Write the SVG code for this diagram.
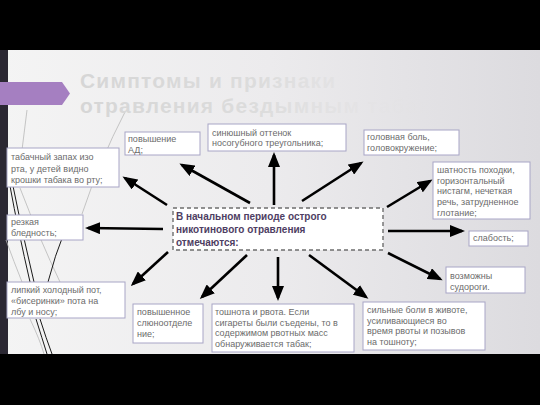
<svg xmlns="http://www.w3.org/2000/svg" width="540" height="405" viewBox="0 0 540 405">
<defs>
<linearGradient id="bg" x1="0" y1="0" x2="1" y2="0">
<stop offset="0" stop-color="#f4f4f4"/>
<stop offset="0.5" stop-color="#ecebed"/>
<stop offset="1" stop-color="#dcdbdf"/>
</linearGradient>
<linearGradient id="tg" gradientUnits="userSpaceOnUse" x1="80" y1="0" x2="480" y2="0">
<stop offset="0" stop-color="#d6d6d6"/>
<stop offset="0.45" stop-color="#dcdcdc"/>
<stop offset="0.75" stop-color="#e4e3e5" stop-opacity="0.6"/>
<stop offset="1" stop-color="#e0dfe2" stop-opacity="0"/>
</linearGradient>
<marker id="ah" markerUnits="userSpaceOnUse" markerWidth="15" markerHeight="12" refX="12" refY="6" orient="auto">
<path d="M0,0 L15,6 L0,12 z" fill="#000"/>
</marker>
<style>
.box{fill:#ffffff;stroke:#a8a5c6;stroke-width:1}
.t{font-family:"Liberation Sans",Arial,sans-serif;font-size:9px;fill:#6b6b6b}
.c{font-family:"Liberation Sans",Arial,sans-serif;font-size:10px;font-weight:bold;fill:#4e3e63}
.ar{stroke:#000;stroke-width:2.6;fill:none;marker-end:url(#ah)}
.deco{fill:none;stroke:#1a1a1a;stroke-width:1}
.decog{fill:none;stroke:#b8b8b8;stroke-width:0.8}
</style>
</defs>
<rect x="0" y="0" width="540" height="405" fill="#000"/>
<rect x="0" y="50" width="540" height="304" fill="url(#bg)"/>
<rect x="0" y="50" width="8" height="304" fill="#2b2833"/>
<g id="decor">
<path class="decog" d="M27,110 L22,150"/>
<path class="decog" d="M125,112 Q100,160 82,214"/>
<path class="decog" d="M20,188 Q40,240 60,282"/>
<path class="deco" d="M10,186 Q18,230 30,282"/>
<path class="deco" d="M13,186 Q22,232 34,282"/>
<path class="deco" d="M64,233 Q55,255 48,282"/>
<path class="deco" d="M40,319 Q46,338 52,354"/>
<path class="deco" d="M36,319 Q42,338 47,354"/>
<path class="decog" d="M30,319 Q40,340 44,354"/>
<path class="decog" d="M6,240 Q14,262 22,282"/>
</g>
<polygon points="0,82 62,82 70,93.5 62,105 0,105" fill="#a57fc1"/>
<g id="title" font-family="'Liberation Sans',Arial,sans-serif" font-size="21" font-weight="bold" letter-spacing="1.2" fill="url(#tg)">
<text x="80" y="88">Симптомы и признаки</text>
<text x="80" y="113">отравления бездымным табаком</text>
</g>
<g id="connectors">
<line class="ar" x1="167" y1="205" x2="125" y2="178"/>
<line class="ar" x1="250" y1="203" x2="182" y2="165"/>
<line class="ar" x1="274" y1="205" x2="274" y2="155"/>
<line class="ar" x1="302" y1="201" x2="361" y2="163"/>
<line class="ar" x1="387" y1="207" x2="430" y2="181"/>
<line class="ar" x1="388" y1="231" x2="462" y2="231"/>
<line class="ar" x1="388" y1="253" x2="440" y2="279"/>
<line class="ar" x1="309" y1="255" x2="366" y2="297"/>
<line class="ar" x1="278" y1="257" x2="278" y2="298"/>
<line class="ar" x1="247" y1="255" x2="202" y2="297"/>
<line class="ar" x1="168" y1="252" x2="133" y2="284"/>
<line class="ar" x1="163" y1="229" x2="88" y2="228"/>
</g>
<g id="center">
<rect x="173" y="208" width="210" height="42" fill="#fff" stroke="#6e6e6e" stroke-width="1.4" stroke-dasharray="4,3"/>
<text class="c" x="176" y="220">В начальном периоде острого</text>
<text class="c" x="176" y="233">никотинового отравления</text>
<text class="c" x="176" y="246">отмечаются:</text>
</g>
<g id="n-tabak">
<rect class="box" x="7" y="148" width="112" height="39"/>
<text class="t" x="11" y="160">табачный запах изо</text>
<text class="t" x="11" y="172">рта, у детей видно</text>
<text class="t" x="11" y="183">крошки табака во рту;</text>
</g>
<g id="n-ad">
<rect class="box" x="125" y="132" width="75" height="23"/>
<text class="t" x="128" y="142">повышение</text>
<text class="t" x="128" y="153">АД;</text>
</g>
<g id="n-sin">
<rect class="box" x="208" y="124" width="138" height="27"/>
<text class="t" x="212" y="136">синюшный оттенок</text>
<text class="t" x="212" y="146">носогубного треугольника;</text>
</g>
<g id="n-golov">
<rect class="box" x="364" y="130" width="95" height="25"/>
<text class="t" x="367" y="140">головная боль,</text>
<text class="t" x="367" y="151">головокружение;</text>
</g>
<g id="n-shat">
<rect class="box" x="433" y="162" width="97" height="57"/>
<text class="t" x="437" y="173">шатность походки,</text>
<text class="t" x="437" y="184">горизонтальный</text>
<text class="t" x="437" y="194">нистагм, нечеткая</text>
<text class="t" x="437" y="205">речь, затрудненное</text>
<text class="t" x="437" y="216">глотание;</text>
</g>
<g id="n-slab">
<rect class="box" x="469" y="231" width="59" height="15"/>
<text class="t" x="473" y="241">слабость;</text>
</g>
<g id="n-sudor">
<rect class="box" x="446" y="267" width="79" height="26"/>
<text class="t" x="450" y="279">возможны</text>
<text class="t" x="450" y="290">судороги.</text>
</g>
<g id="n-boli">
<rect class="box" x="363" y="302" width="122" height="48"/>
<text class="t" x="367" y="313">сильные боли в животе,</text>
<text class="t" x="367" y="324">усиливающиеся во</text>
<text class="t" x="367" y="334">время рвоты и позывов</text>
<text class="t" x="367" y="345">на тошноту;</text>
</g>
<g id="n-toshn">
<rect class="box" x="212" y="304" width="142" height="48"/>
<text class="t" x="215" y="315">тошнота и рвота. Если</text>
<text class="t" x="215" y="326">сигареты были съедены, то в</text>
<text class="t" x="215" y="336">содержимом рвотных масс</text>
<text class="t" x="215" y="347">обнаруживается табак;</text>
</g>
<g id="n-slyun">
<rect class="box" x="133" y="304" width="70" height="39"/>
<text class="t" x="137" y="315">повышенное</text>
<text class="t" x="137" y="326">слюноотделе</text>
<text class="t" x="137" y="337">ние;</text>
</g>
<g id="n-pot">
<rect class="box" x="7" y="282" width="118" height="36"/>
<text class="t" x="11" y="293">липкий холодный пот,</text>
<text class="t" x="11" y="304">«бисеринки» пота на</text>
<text class="t" x="11" y="315">лбу и носу;</text>
</g>
<g id="n-bled">
<rect class="box" x="7" y="215" width="76" height="25"/>
<text class="t" x="11" y="225">резкая</text>
<text class="t" x="11" y="236">бледность;</text>
</g>
</svg>
